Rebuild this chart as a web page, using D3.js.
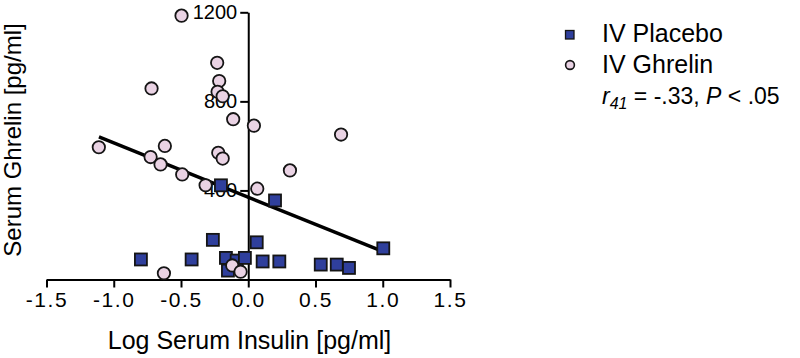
<!DOCTYPE html>
<html>
<head>
<meta charset="utf-8">
<script src="https://cdn.jsdelivr.net/npm/d3@7"></script>
<style>
html,body{margin:0;padding:0;background:#fff;}
svg{display:block;font-family:Arial,"Liberation Sans",sans-serif;}
</style>
</head>
<body>
<svg id="chart" width="800" height="358"></svg>
<script>
// ---- data ----
const placeboX = [-0.798,-0.421,-0.263,-0.203,-0.166,-0.151,-0.086,-0.025,0.063,0.199,0.107,0.231,0.539,0.658,0.749,1.004];
const placeboY = [90,90,178,423,97,40,85,97,167,355,81,81,67,67,52,140];
const ghrelinX = [-0.496,-0.231,-0.216,-0.228,-0.190,-0.719,-0.112,0.042,0.690,-1.111,-0.620,-0.223,-0.190,-0.726,-0.652,-0.491,-0.317,0.067,0.310,-0.627,-0.119,-0.057];
const ghrelinY = [1185,973,891,843,823,858,720,691,651,594,600,569,543,550,517,472,423,408,490,28,63,35];
const fitX = [-1.11, 1.004];
const fitY = [640, 125];
const xTicks = [-1.5,-1.0,-0.5,0.0,0.5,1.0,1.5];
const yTicks = [400,800,1200];
const seriesNames = ["IV Placebo","IV Ghrelin"];

// ---- layout ----
const svg = d3.select("#chart");
const x = d3.scaleLinear().domain([-1.5,1.5]).range([46.5,450]);
const y = d3.scaleLinear().domain([0,1200]).range([279.5,12.3]);
const BLUE = "#2f3f9c", PINK = "#ead3e4", EDGE = "#151515";
const FONT = "Arial,'Liberation Sans',sans-serif";

// x axis
const gx = svg.append("g").attr("transform",`translate(0,${y(0)})`)
  .call(d3.axisBottom(x).tickValues(xTicks).tickSize(8).tickSizeOuter(0).tickPadding(5)
        .tickFormat(d=>d.toFixed(1)));
gx.select(".domain").attr("stroke","#000").attr("stroke-width",2);
gx.selectAll(".tick line").attr("stroke","#000").attr("stroke-width",2);
gx.selectAll(".tick text").attr("font-size",21).attr("fill","#000")
  .style("font-family",FONT).style("letter-spacing","1.6px");

// y axis
const gy = svg.append("g").attr("transform",`translate(${x(0)},0)`)
  .call(d3.axisLeft(y).tickValues(yTicks).tickSize(8).tickSizeOuter(0).tickPadding(3)
        .tickFormat(d=>String(d)));
gy.select(".domain").attr("stroke","#000").attr("stroke-width",2);
gy.selectAll(".tick line").attr("stroke","#000").attr("stroke-width",2);
gy.selectAll(".tick text").attr("font-size",20).attr("fill","#000").style("font-family",FONT);

// axis titles
svg.append("text").attr("x",249.5).attr("y",349).attr("text-anchor","middle")
  .attr("font-size",25).text("Log Serum Insulin [pg/ml]");
svg.append("text").attr("transform","translate(21,140) rotate(-90)").attr("text-anchor","middle")
  .attr("font-size",24).text("Serum Ghrelin [pg/ml]");

// fit line
svg.append("line")
  .attr("x1",x(fitX[0])).attr("y1",y(fitY[0]))
  .attr("x2",x(fitX[1])).attr("y2",y(fitY[1]))
  .attr("stroke","#000").attr("stroke-width",3.5);

// points
const placebo = placeboX.map((v,i)=>({x:v,y:placeboY[i]}));
const ghrelin = ghrelinX.map((v,i)=>({x:v,y:ghrelinY[i]}));
const S = 12;
svg.append("g").selectAll("rect").data(placebo).join("rect")
  .attr("x",d=>x(d.x)-S/2).attr("y",d=>y(d.y)-S/2).attr("width",S).attr("height",S)
  .attr("fill",BLUE).attr("stroke",EDGE).attr("stroke-width",1.8);
svg.append("g").selectAll("circle").data(ghrelin).join("circle")
  .attr("cx",d=>x(d.x)).attr("cy",d=>y(d.y)).attr("r",6.2)
  .attr("fill",PINK).attr("stroke",EDGE).attr("stroke-width",1.8);

// legend
const lg = svg.append("g");
lg.append("rect").attr("x",565.5).attr("y",30.5).attr("width",8.5).attr("height",8.5)
  .attr("fill",BLUE).attr("stroke",EDGE).attr("stroke-width",1.3);
lg.append("circle").attr("cx",570).attr("cy",65).attr("r",4.4)
  .attr("fill",PINK).attr("stroke",EDGE).attr("stroke-width",1.6);
lg.append("text").attr("x",602).attr("y",42).attr("font-size",25).text(seriesNames[0]);
lg.append("text").attr("x",602).attr("y",73).attr("font-size",25).text(seriesNames[1]);
const st = lg.append("text").attr("x",602).attr("y",104).attr("font-size",23);
st.append("tspan").attr("font-style","italic").text("r");
st.append("tspan").attr("font-style","italic").attr("font-size",16).attr("dy",5).text("41");
st.append("tspan").attr("dy",-5).text(" = -.33, ");
st.append("tspan").attr("font-style","italic").text("P");
st.append("tspan").text(" < .05");
</script>
</body>
</html>
